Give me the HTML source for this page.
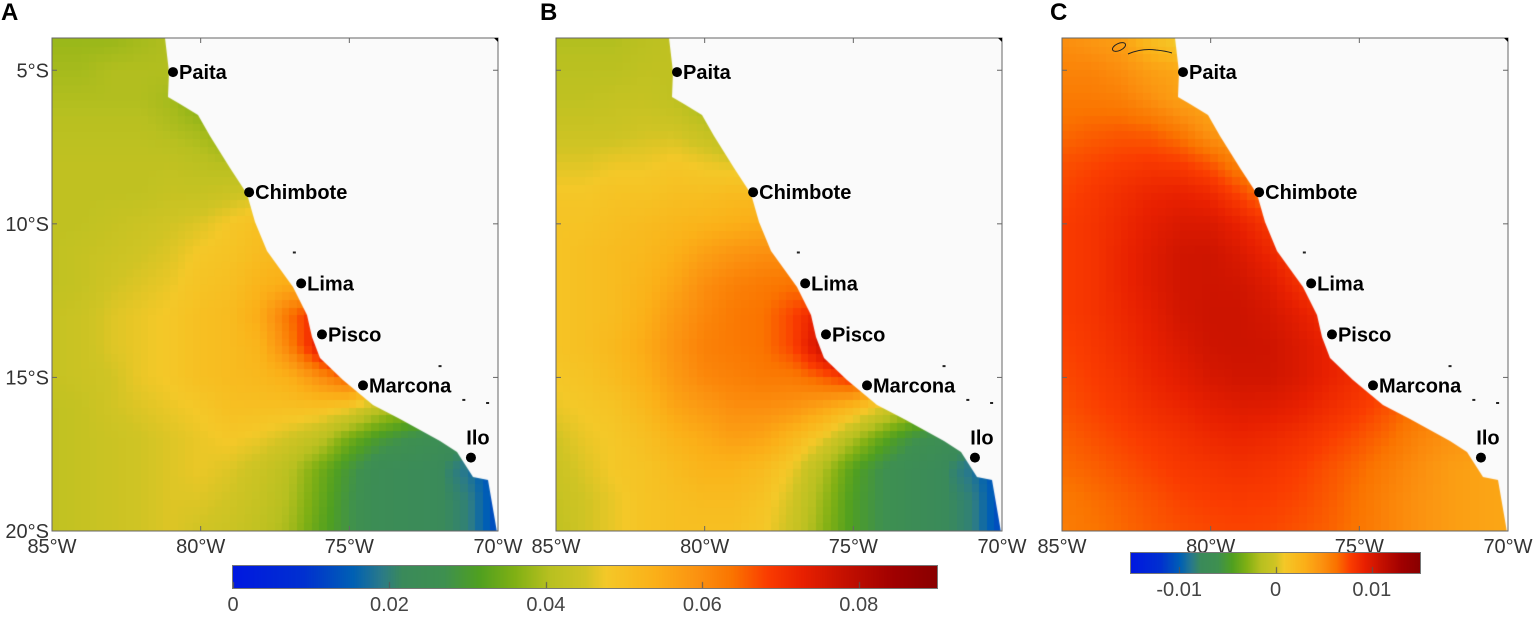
<!DOCTYPE html>
<html><head><meta charset="utf-8">
<style>
body{margin:0;width:1536px;height:620px;background:#fff;position:relative;overflow:hidden;font-family:"Liberation Sans",sans-serif}
.abs{position:absolute}
canvas{position:absolute}
.tl{position:absolute;font-size:19px;color:#333;white-space:nowrap}
.pl{position:absolute;font-size:24px;font-weight:bold;color:#000}
</style></head><body>
<div class="pl" style="left:1px;top:-1px">A</div>
<div class="pl" style="left:540px;top:-1px">B</div>
<div class="pl" style="left:1050px;top:-1px">C</div>
<div id="root"></div>
<script>
// Data: values on 1-degree grid, rows lat -4..-20, cols lon -85..-70 (land cells padded)
const lonCats=[-85,-84,-83,-82,-81,-80,-79,-78,-77,-76,-75,-74,-73,-72,-71,-70];
const latCats=[-4,-5,-6,-7,-8,-9,-10,-11,-12,-13,-14,-15,-16,-17,-18,-19,-20];
const valuesA=[ // x1e-3
[38,38,38,39,40,42,46,48],[39,39,40,40,40,36,33,32],[40,40,40,40,39,36,32,30],
[41,41,41,41,40,39,37,33,31],[42,42,42,42,42,41,40,38,35,34],[42,42,42,42,43,43,44,45,44,40],
[42,42,43,44,45,46,48,50,50,46,42],[42,43,44,45,46,48,49,51,52,48,42],[42,43,45,46,47,49,50,53,55,52,46],
[43,44,46,47,48,50,51,55,64,72,62,45],[43,44,46,47,48,50,51,53,62,74,84,72],[43,44,45,47,48,50,51,52,54,60,66,56,48],
[42,43,45,46,47,48,50,50,50,50,48,42,38,34],[42,43,44,45,46,47,48,47,45,42,35,30,27,25,23],
[42,43,44,45,46,47,46,44,41,35,29,24,23,22,18,12],[42,43,44,45,46,46,45,43,40,34,28,24,23,22,20,12],
[42,43,44,45,46,45,44,42,39,33,28,24,23,22,20,12]];
const valuesB=[ // x1e-3
[40,40,40,41,42,44,48,55],[41,41,41,42,42,38,33,31],[42,42,43,43,42,38,32,30],
[44,44,44,45,45,43,40,35,32],[46,46,47,47,48,47,46,44,40,38],[48,48,49,49,50,50,51,51,48,44],
[49,49,50,51,52,53,54,55,56,50,44],[49,50,51,52,54,57,59,60,60,54,44],[49,50,51,53,56,60,62,63,64,60,50],
[49,50,51,54,58,61,63,64,68,74,66,46],[49,50,52,55,59,62,63,64,68,78,88,76],[48,49,51,54,58,61,62,63,63,66,70,60,50],
[47,48,49,52,56,58,60,60,59,56,52,46,40,35],[45,47,48,50,53,55,57,56,52,47,40,33,28,25,23],
[44,46,48,49,51,53,53,51,47,40,32,27,24,22,18,12],[43,45,47,49,50,51,51,49,45,38,31,27,24,22,20,12],
[42,45,47,49,50,50,50,48,44,37,31,27,24,22,20,12]];
const valuesC=[ // x1e-4
[50,45,40,20,5,5,20,30],[55,55,50,40,35,30,30,30],[60,60,58,50,40,35,30,30],
[65,68,70,68,60,45,38,32,30],[72,75,78,80,78,70,55,42,35,32],[75,80,85,90,92,88,75,60,45,35],
[78,82,88,95,100,100,92,80,60,45,40],[78,82,90,98,105,106,100,90,75,60,50],[78,82,90,98,105,106,105,98,85,75,65],
[78,82,88,95,104,107,107,103,95,85,78,75],[76,80,86,93,100,106,107,106,100,92,85,80],[74,78,83,90,96,102,105,105,100,92,85,78,70],
[72,76,80,86,90,95,98,97,93,86,80,72,62,55],[68,72,76,80,84,88,90,88,84,78,72,65,55,48,45],
[65,68,72,76,80,82,84,82,78,72,66,58,50,42,38,36],[60,64,68,72,76,78,79,78,75,70,63,55,48,42,38,36],
[58,62,66,70,73,75,76,75,72,68,62,55,48,42,38,36]];
const cbTicksA=[0,0.02,0.04,0.06,0.08];
const cbTicksC=[-0.01,0,0.01];
const cities=[["Paita",-80.93,-5.06],["Chimbote",-78.37,-8.97],["Lima",-76.62,-11.94],["Pisco",-75.92,-13.6],["Marcona",-74.54,-15.26],["Ilo",-70.91,-17.61]];

const W=446,H=493,LON0=-85,LON1=-70,LAT0=-3.95,LAT1=-20;
const xs=l=>(l-LON0)/(LON1-LON0)*W, ys=l=>(LAT0-l)/(LAT0-LAT1)*H;
const stops=[[0,'#0018e0'],[0.1,'#0030d0'],[0.17,'#0060b4'],[0.21,'#2a7a8a'],[0.24,'#3a8a5a'],[0.3,'#3e9050'],[0.35,'#50a020'],[0.4,'#80b014'],[0.45,'#b8c020'],[0.5,'#d0c424'],[0.53,'#f4c828'],[0.6,'#fbb018'],[0.66,'#fb9210'],[0.71,'#fa7400'],[0.76,'#fa3c00'],[0.81,'#e82000'],[0.87,'#c41000'],[0.94,'#a00000'],[1,'#8a0000']];
function hex(h){return [1,3,5].map(i=>parseInt(h.substr(i,2),16));}
function cmap(t){t=Math.max(0,Math.min(1,t));for(let i=1;i<stops.length;i++){if(t<=stops[i][0]){const a=stops[i-1],b=stops[i];const f=(t-a[0])/(b[0]-a[0]);const A=hex(a[1]),B=hex(b[1]);return 'rgb('+A.map((v,k)=>Math.round(v+(B[k]-v)*f)).join(',')+')';}}return stops[stops.length-1][1];}
function grid(rows,r,c){const row=rows[r];return row[Math.min(c,row.length-1)];}
function sample(rows,lon,lat){let c=Math.max(0,Math.min(lonCats.length-1.0001,lon-lonCats[0]));let r=Math.max(0,Math.min(latCats.length-1.0001,latCats[0]-lat));const c0=Math.floor(c),r0=Math.floor(r),fc=c-c0,fr=r-r0;
return grid(rows,r0,c0)*(1-fc)*(1-fr)+grid(rows,r0,c0+1)*fc*(1-fr)+grid(rows,r0+1,c0)*(1-fc)*fr+grid(rows,r0+1,c0+1)*fc*fr;}
const coast=[[113,0],[117,34],[116,59],[128,66],[146,77],[158,98],[178,130],[195,156],[203,184],[215,213],[241,249],[255,277],[260,299],[268,320],[291,342],[321,367],[348,381],[388,403],[405,414],[421,439],[436,442],[445,494],[447,494],[447,-1],[113,-1]];
const root=document.getElementById('root');
const NS='http://www.w3.org/2000/svg';
function panel(px,py,rows,scale,vmin,vmax,name,showY){
  const cv=document.createElement('canvas');cv.width=W;cv.height=H;cv.style.left=px+'px';cv.style.top=py+'px';
  
  
  root.appendChild(cv);const g=cv.getContext('2d');
  const step=0.25;
  for(let lon=LON0;lon<LON1;lon+=step){for(let lat=-3.75;lat>LAT1-0.3;lat-=step){
    const v=sample(rows,lon+step/2,lat-step/2)*scale;g.fillStyle=cmap((v-vmin)/(vmax-vmin));
    const x0=Math.floor(xs(lon)),x1=Math.ceil(xs(lon+step)),y0=Math.floor(ys(lat)),y1=Math.ceil(ys(lat-step));
    g.fillRect(x0,y0,x1-x0,y1-y0);}}
  g.fillStyle='#fafafa';g.beginPath();coast.forEach((p,i)=>i?g.lineTo(p[0],p[1]):g.moveTo(p[0],p[1]));g.closePath();g.fill();
  const svg=document.createElementNS(NS,'svg');svg.setAttribute('width',W+120);svg.setAttribute('height',H+40);
  svg.style.position='absolute';svg.style.left=(px-60)+'px';svg.style.top=py+'px';svg.style.overflow='visible';
  
  
  let s='<g transform="translate(60,0)"><rect x="0" y="0" width="'+W+'" height="'+H+'" fill="none" stroke="#666" stroke-width="1"/>';
  [-80,-75].forEach(l=>{const x=xs(l);s+='<line x1="'+x+'" y1="0" x2="'+x+'" y2="5" stroke="#666"/><line x1="'+x+'" y1="'+H+'" x2="'+x+'" y2="'+(H-5)+'" stroke="#666"/>';});
  [-5,-10,-15].forEach(l=>{const y=ys(l);s+='<line x1="0" y1="'+y+'" x2="5" y2="'+y+'" stroke="#666"/><line x1="'+W+'" y1="'+y+'" x2="'+(W-5)+'" y2="'+y+'" stroke="#666"/>';});
  [[-76.9,-10.9],[-72,-14.6],[-71.2,-15.7],[-70.4,-15.8]].forEach(p=>{s+='<rect x="'+xs(p[0])+'" y="'+ys(p[1])+'" width="3" height="2" fill="#222"/>';});
  s+='<path d="M'+(W-4)+',0 L'+W+',0 L'+W+',4Z" fill="#000"/>';
  cities.forEach(c=>{const x=xs(c[1]),y=ys(c[2]);
    s+='<circle cx="'+x+'" cy="'+y+'" r="5" fill="#000"/>';
    if(c[0]==='Ilo') s+='<text x="'+(x+7)+'" y="'+(y-13)+'" font-size="20" font-weight="bold" text-anchor="middle" font-family="Liberation Sans,sans-serif">Ilo</text>';
    else s+='<text x="'+(x+6)+'" y="'+(y+7)+'" font-size="20" font-weight="bold" font-family="Liberation Sans,sans-serif">'+c[0]+'</text>';});
  if(name==='panel-c'){s+='<ellipse cx="57" cy="9" rx="7" ry="3.5" fill="none" stroke="#222" transform="rotate(-25 57 9)"/><path d="M66,16 Q80,10 94,12 Q104,13 110,15" fill="none" stroke="#222"/>';}
  [-85,-80,-75,-70].forEach(l=>{s+='<text x="'+xs(l)+'" y="'+(H+22)+'" font-size="20" fill="#333" text-anchor="middle" font-family="Liberation Sans,sans-serif">'+(-l)+'°W</text>';});
  if(showY)[-5,-10,-15,-20].forEach(l=>{s+='<text x="-3" y="'+(ys(l)+7)+'" font-size="20" fill="#333" text-anchor="end" font-family="Liberation Sans,sans-serif">'+(-l)+'°S</text>';});
  s+='</g>';svg.innerHTML=s;root.appendChild(svg);
}
panel(52,38,valuesA,0.001,0,0.09,'panel-a',true);
panel(556,38,valuesB,0.001,0,0.09,'panel-b',false);
panel(1062,38,valuesC,0.0001,-0.015,0.015,'panel-c',false);
function colorbar(x,y,w,h,vmin,vmax,ticks,name,fmt){
  const cv=document.createElement('canvas');cv.width=w;cv.height=h;cv.style.left=x+'px';cv.style.top=y+'px';cv.style.outline='1px solid #777';
  
  
  root.appendChild(cv);const g=cv.getContext('2d');
  for(let i=0;i<w;i++){g.fillStyle=cmap(i/(w-1));g.fillRect(i,0,1,h);}
  g.fillStyle='#555';
  ticks.forEach(t=>{const tx=(t-vmin)/(vmax-vmin)*w;g.fillRect(Math.round(tx),h-6,1,6);
    const d=document.createElement('div');d.className='tl';d.textContent=fmt(t);
    
    
    d.style.fontSize='20px';d.style.color='#444';d.style.left=(x+tx-40)+'px';d.style.width='80px';d.style.textAlign='center';d.style.top=(y+h+6)+'px';root.appendChild(d);});
}
colorbar(233,566,704,22,0,0.09,cbTicksA,'colorbar-ab',t=>String(t));
colorbar(1131,553,289,20,-0.015,0.015,cbTicksC,'colorbar-c',t=>String(t));
</script>
</body></html>
